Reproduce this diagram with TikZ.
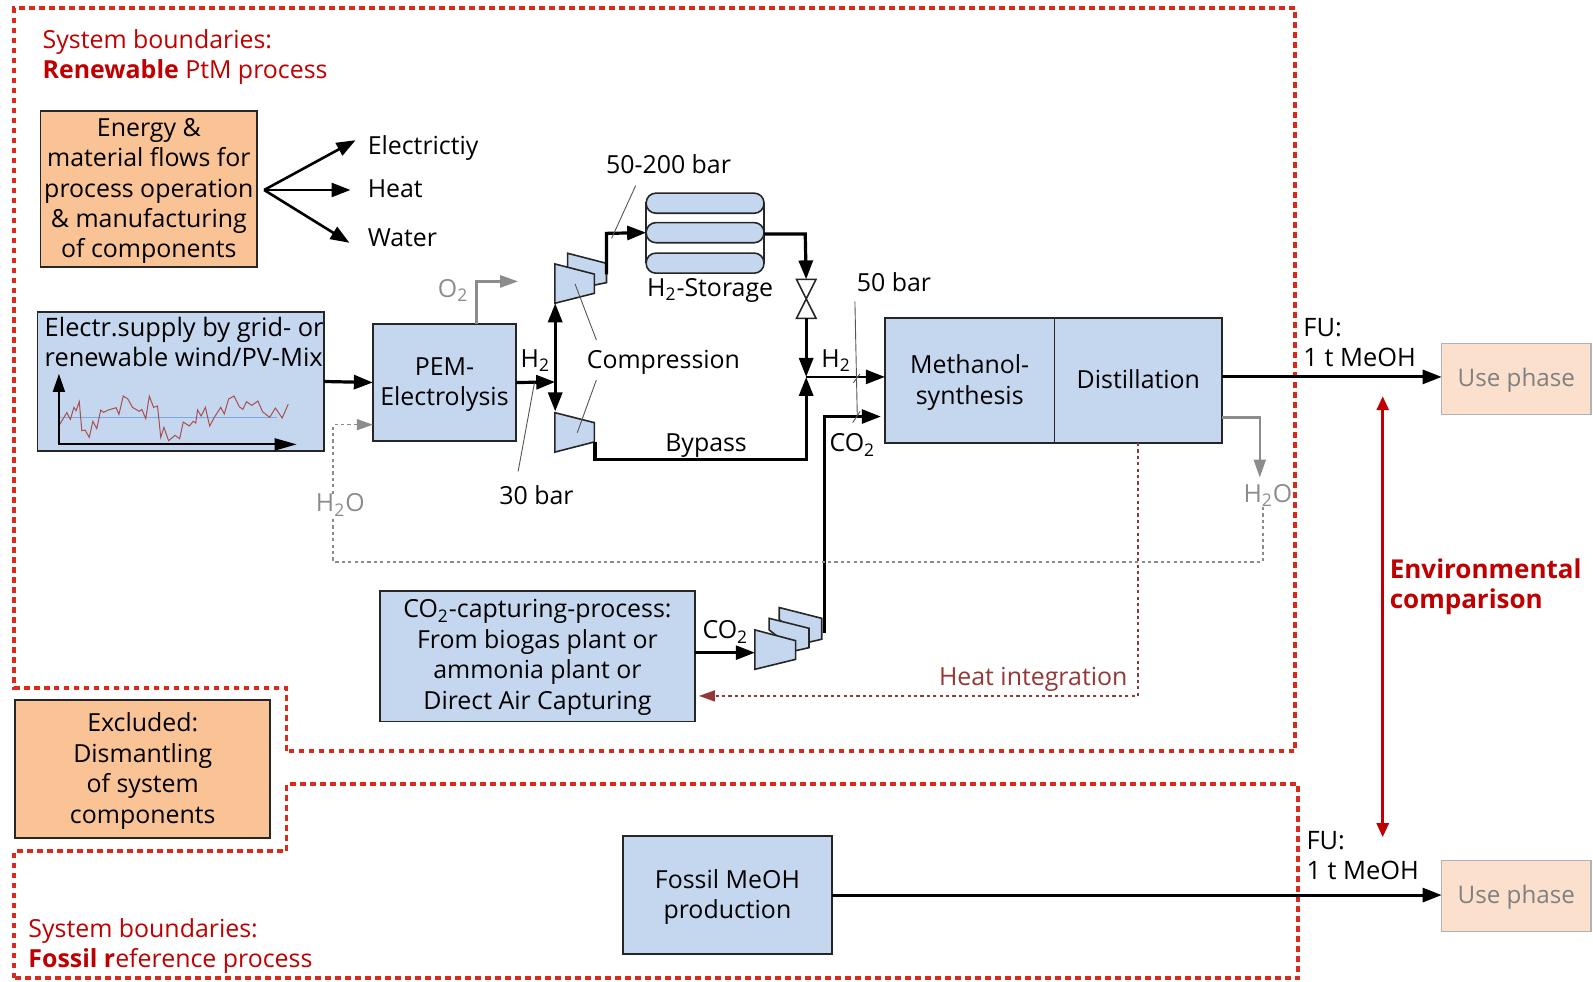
\documentclass[tikz,border=0pt]{standalone}
\usepackage{fontspec}
\setmainfont{Open Sans}
\usetikzlibrary{arrows.meta,calc}
\definecolor{boxblue}{HTML}{C5D7EF}
\definecolor{boxorange}{HTML}{FAC396}
\definecolor{usefill}{HTML}{FBE1CD}
\definecolor{redtxt}{HTML}{C00000}
\definecolor{reddash}{HTML}{D92A1C}
\definecolor{heatred}{HTML}{953735}
\definecolor{grayflow}{HTML}{8C8C8C}
\definecolor{linegray}{HTML}{555555}
\definecolor{traceblue}{HTML}{7FA8E0}
\definecolor{tracered}{HTML}{A85050}
\newcommand{\lo}[1]{\textsubscript{#1}}
\newcommand{\bxdy}{2}
\newcommand{\bx}[7]{\node[#6,minimum width={(#4-#2)*0.508pt},minimum height={(#5-#3)*0.508pt}] (#1) at ({(#2+#4)/2},{(#3+#5)/2}) {};
  \node[#6,draw=none,fill=none] (#1t) at ({(#2+#4)/2},{(#3+#5)/2+\bxdy}) {#7};}
\tikzset{
  base/.style={inner sep=0pt,outer sep=0pt,align=center,font=\fontsize{12.45}{15.2}\selectfont},
  bluebox/.style={base,draw=black!85,line width=0.8pt,fill=boxblue},
  orangebox/.style={base,draw=black!85,line width=0.8pt,fill=boxorange},
  usebox/.style={base,draw=black!30,line width=0.7pt,fill=usefill,text=black!50,font=\fontsize{12.1}{15.2}\selectfont},
  lbl/.style={base},
  lblL/.style={base,anchor=west,align=left},
  redl/.style={base,anchor=west,align=left,text=redtxt},
  grayl/.style={base,text=grayflow},
  boundary/.style={draw=reddash,line width=1.9pt,dash pattern=on 2.8pt off 2.2pt},
  flow/.style={draw=black,line width=1.6pt,-{Triangle[length=9.5pt,width=7pt]}},
  flowd/.style={draw=black,line width=1.6pt,{Triangle[length=9.5pt,width=7pt]}-{Triangle[length=9.5pt,width=7pt]}},
  flowm/.style={draw=black,line width=1.2pt,-{Triangle[length=9.5pt,width=7pt]}},
  grayf/.style={draw=grayflow,line width=1.3pt,-{Triangle[length=9pt,width=6pt]}},
  graydot/.style={draw=grayflow,line width=0.8pt,dash pattern=on 1.6pt off 1.6pt},
  grayarr/.style={graydot,-{Triangle[length=8pt,width=5.5pt,fill=grayflow]}},
  thinl/.style={draw=linegray,line width=0.45pt},
  comp/.style={draw=black!85,line width=0.8pt,fill=boxblue},
  tank/.style={base,draw=black!85,line width=0.8pt,fill=boxblue,rounded corners=4.9pt,minimum width={116*0.508pt},minimum height={19.8*0.508pt}},
}
\begin{document}
\begin{tikzpicture}[x=0.508pt,y=-0.508pt]
\useasboundingbox (0,0) rectangle (1568,965.6);

% system boundaries
\draw[boundary] (282,739) -- (282,677) -- (14,677) -- (14,8) -- (1275,8) -- (1275,739) -- cycle;
\draw[boundary] (14,963) -- (14,838) -- (282,838) -- (282,772) -- (1278,772) -- (1278,963) -- cycle;
\node[redl] (sb1) at (42,56) {System boundaries:\\\textbf{Renewable} PtM process};
\node[redl] (sb2) at (28,931) {System boundaries:\\\textbf{Fossil r}eference process};

% boxes
\bx{energy}{40}{109}{253}{263}{orangebox}{Energy \&\\material flows for\\process operation\\\& manufacturing\\of components}
\bx{excl}{15}{689}{266}{825}{orangebox}{Excluded:\\Dismantling\\of system\\components}
\bx{pem}{367}{319}{508}{434}{bluebox}{PEM-\\Electrolysis}
\bx{synth}{871}{313}{1038}{436}{bluebox}{Methanol-\\synthesis}
\bx{fossil}{613}{823}{819}{939}{bluebox}{Fossil MeOH\\production}
\renewcommand{\bxdy}{1}
\bx{co2}{374}{582}{684}{710}{bluebox}{CO\lo{2}-capturing-process:\\From biogas plant or\\ammonia plant or\\Direct Air Capturing}
\bx{use1}{1419}{338}{1566}{408}{usebox}{Use phase}
\bx{use2}{1419}{847}{1566}{917}{usebox}{Use phase}
\renewcommand{\bxdy}{0}
\bx{grid}{37}{307}{319}{444}{bluebox}{}
\node[lblL,font=\fontsize{12.7}{15}\selectfont] (gridt) at (44,337) {Electr.supply by grid- or\\renewable wind/PV-Mix};
\renewcommand{\bxdy}{-1}
\bx{dist}{1038}{313}{1203}{436}{bluebox}{Distillation}

% mini chart in the supply box
\begin{scope}[shift={(0,275.6)},x=0.1786pt,y=-0.1667pt]
  \draw[traceblue,line width=0.7pt] (165,413) -- (775,413);
  \draw[tracered,line width=0.5pt] (165,437)--(187,398)--(197,418)--(207,382)--(213,392)--(222,365)--(229,452)--(238,450)--(250,472)--(260,424)--(271,446)--(282,390)--(290,397)--(303,390)--(325,383)--(333,403)--(345,348)--(358,357)--(371,382)--(390,394)--(397,388)--(408,416)--(418,348)--(430,382)--(441,378)--(450,472)--(459,442)--(472,482)--(490,466)--(503,476)--(513,426)--(530,438)--(541,424)--(548,429)--(553,390)--(563,408)--(575,382)--(587,438)--(600,412)--(618,382)--(628,402)--(640,357)--(655,348)--(670,380)--(680,388)--(690,365)--(705,376)--(722,363)--(735,395)--(755,412)--(771,384)--(790,414)--(807,372);
\end{scope}
\coordinate (ax0) at (58,437.4);
\coordinate (axy) at (58,368);
\coordinate (axx) at (292,437.4);
\draw[draw=black,line width=0.9pt,{Triangle[length=9pt,width=6pt]}-{Triangle[length=11pt,width=6pt]}] (axy) -- (ax0) -- (axx);

% fan of arrows
\coordinate (fan) at (260,187);
\node[lblL] (el) at (362,145.5) {Electrictiy};
\node[lblL] (he) at (362,185.5) {Heat};
\node[lblL] (wa) at (362,234) {Water};
\coordinate (fe) at (350,138);
\coordinate (fh) at (345,187);
\coordinate (fw) at (344,239);
\draw[flowm,line width=1.3pt] (fan) -- (fe);
\draw[flowm,line width=1.3pt] (fan) -- (fh);
\draw[flowm,line width=1.3pt] (fan) -- (fw);

% H2 compressors
\draw[comp] (558.7,265) -- (558.7,249.3) -- (597,259.2) -- (597,278.2) -- (585.6,280.5) -- (570,280) -- cycle;
\draw[comp] (546.2,259.8) -- (585,269.8) -- (585,288.7) -- (546.2,298.5) -- cycle;
\draw[comp] (546.2,406.2) -- (585,416) -- (585,435) -- (546.2,445) -- cycle;

% storage
\draw[draw=black!85,line width=0.8pt] (636,199) -- (636,259) (752,199) -- (752,259);
\node[tank] (t1) at (694,200) {};
\node[tank] (t2) at (694,229) {};
\node[tank] (t3) at (694,259) {};

% valve
\coordinate (vt) at (793.5,275);
\coordinate (vb) at (793.5,313.3);
\draw[draw=black!85,fill=white,line width=0.8pt] (784,275) -- (803.2,275) -- (784,313.3) -- (803.2,313.3) -- cycle;

% CO2 compressors
\draw[comp] (767,610) -- (767,598) -- (808.8,608.6) -- (808.8,629.2) -- (796.6,632) -- cycle;
\draw[comp] (757,620) -- (757,608.6) -- (796.3,618.4) -- (796.3,637.5) -- (783.5,640.4) -- cycle;
\draw[comp] (743,620) -- (783.1,630.6) -- (783.1,649) -- (743,658.8) -- cycle;

% junctions and free ends
\coordinate (j1) at (546.5,376);
\coordinate (c1in) at (546.5,298.5);
\coordinate (c2in) at (546.5,405);
\coordinate (c1out) at (597,270);
\coordinate (c1up) at (597,229.7);
\coordinate (c2out) at (585.6,434.7);
\coordinate (c2dn) at (585.6,452);
\coordinate (bysw) at (793.5,452);
\coordinate (jm) at (793.5,371);
\coordinate (s1) at (752,230.4);
\coordinate (s2) at (792.6,230.4);
\coordinate (cco2) at (743,642.4);
\coordinate (cv) at (811.5,623);
\coordinate (ch) at (811.5,410);
\coordinate (cend) at (867,410);
\coordinate (o1) at (469,277);
\coordinate (o2) at (510,277);
\coordinate (pemtop) at (469,319);
\coordinate (w1) at (1203,411);
\coordinate (w2) at (1240,411);
\coordinate (w3) at (1240,470);
\coordinate (d1) at (1243,553);
\coordinate (d2) at (328,553);
\coordinate (d3) at (328,418);
\coordinate (d4) at (367,418);
\coordinate (hs) at (1120,436);
\coordinate (hc) at (1120,685);
\coordinate (he1) at (688,685);
\coordinate (m1) at (1203,371);

% flows
\draw[flow] (grid.east) -- (pem.west);
\draw[flow] (pem.east) -- (j1);
\draw[flowd] (c1in) -- (c2in);
\draw[flow] (c1out) -- (c1up) -- (t2.west);
\draw[flow] (s1) -- (s2) -- (vt);
\draw[flow] (vb) -- (jm);
\draw[flow] (c2out) -- (c2dn) -- (bysw) -- (jm);
\draw[flowm] (jm) -- (synth.west |- jm);
\draw[flow,line width=1.4pt] (cv) -- (ch) -- (cend);
\draw[flowm,line width=1.3pt] (co2.east |- cco2) -- (cco2);
\draw[flowm,line width=1.5pt] (dist.east |- m1) -- (use1.west |- m1);
\draw[flowm,line width=1.5pt] (fossil.east) -- (fossil.east -| use2.west);

% gray flows
\node[grayl] (o2t) at (446,286) {O\lo{2}};
\node[grayl] (h2ol) at (335,497) {H\lo{2}O};
\node[grayl] (h2or) at (1248,488) {H\lo{2}O};
\draw[grayf] (pemtop) -- (o1) -- (o2);
\draw[grayf,line width=1.1pt] (w1) -- (w2) -- (w3);
\draw[graydot] (h2or.south -| d1) -- (d1) -- (d2) -- (d2 |- h2ol.south);
\draw[grayarr] (d3 |- h2ol.north) -- (d3) -- (d4);

% heat integration
\draw[draw=heatred,line width=0.8pt,dash pattern=on 1.6pt off 1.6pt,-{Triangle[length=8pt,width=5.5pt,fill=heatred]}] (hs) -- (hc) -- (he1);
\node[lbl,text=heatred] (heat) at (1017,668.5) {Heat integration};

% leader lines
\coordinate (l1a) at (625.7,182.7);
\coordinate (l1b) at (602,234.6);
\coordinate (l2a) at (566,279.5);
\coordinate (l2b) at (587,334.6);
\coordinate (l3a) at (587,374);
\coordinate (l3b) at (568.2,425.9);
\coordinate (l4a) at (526,377);
\coordinate (l4b) at (510,464);
\coordinate (l5a) at (841.5,297);
\coordinate (l5b) at (843.8,408.5);
\coordinate (t1a) at (840,376.7);
\coordinate (t1b) at (846.5,368);
\coordinate (t2a) at (839.3,416);
\coordinate (t2b) at (846.5,405);
\draw[thinl] (l1a) -- (l1b);
\draw[thinl] (l2a) -- (l2b);
\draw[thinl] (l3a) -- (l3b);
\draw[thinl] (l4a) -- (l4b);
\draw[thinl] (l5a) -- (l5b);
\draw[thinl] (t1a) -- (t1b);
\draw[thinl] (t2a) -- (t2b);

% labels
\node[lbl] (p1) at (658,162) {50-200 bar};
\node[lbl] (p2) at (699,285.5) {H\lo{2}-Storage};
\node[lbl] (p3) at (880,278) {50 bar};
\node[lbl] (p4) at (528,487) {30 bar};
\node[lbl] (p5) at (653,356.5) {Compression};
\node[lbl] (p6) at (695,438.5) {Bypass};
\node[lbl] (p7) at (527,355) {H\lo{2}};
\node[lbl] (p8) at (823,355) {H\lo{2}};
\node[lbl] (p9) at (839,438) {CO\lo{2}};
\node[lbl] (p10) at (714,622) {CO\lo{2}};
\node[lblL,font=\fontsize{12.7}{15}\selectfont] (fu1) at (1283,337) {FU:\\1 t MeOH};
\node[lblL,font=\fontsize{12.7}{15}\selectfont] (fu2) at (1286,842) {FU:\\1 t MeOH};

% comparison
\coordinate (cmpa) at (1361,390);
\coordinate (cmpb) at (1361,824);
\draw[draw=redtxt,line width=1.4pt,{Triangle[length=7pt,width=6pt]}-{Triangle[length=7pt,width=6pt]}] (cmpa) -- (cmpb);
\node[redl,font=\fontsize{13}{15.2}\selectfont\bfseries] (env) at (1368,577.5) {Environmental\\comparison};
\end{tikzpicture}
\end{document}
